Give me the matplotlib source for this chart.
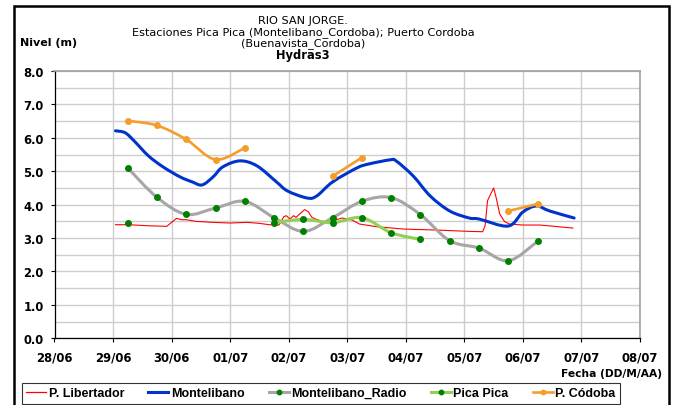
import matplotlib
matplotlib.use("Agg")
import matplotlib.pyplot as plt
import matplotlib.dates as mdates
from matplotlib.path import Path
from matplotlib.patches import PathPatch, Rectangle
from matplotlib.lines import Line2D
import numpy as np
import pandas as pd

YEAR = "2011"

# ---- data -------------------------------------------------------------
libertador_time = [
    "06-29 01:00", "06-29 06:00", "06-29 14:00", "06-29 22:00", "06-30 00:00",
    "06-30 02:00", "06-30 04:00", "06-30 06:00", "06-30 10:00", "06-30 17:00",
    "07-01 00:00", "07-01 07:00", "07-01 12:00", "07-01 16:00", "07-01 20:00",
    "07-01 22:00", "07-01 23:00", "07-02 00:30", "07-02 02:00", "07-02 03:00",
    "07-02 04:30", "07-02 06:30", "07-02 08:00", "07-02 09:30", "07-02 11:00",
    "07-02 15:00", "07-02 18:00", "07-02 22:00", "07-03 02:00", "07-03 05:00",
    "07-03 12:00", "07-03 23:00", "07-04 12:30", "07-05 02:00", "07-05 07:30",
    "07-05 08:30", "07-05 09:30", "07-05 12:00", "07-05 13:00", "07-05 14:30",
    "07-05 16:30", "07-05 18:30", "07-06 00:00", "07-06 07:00", "07-06 20:30",
]
libertador_level = [
    3.40, 3.40, 3.37, 3.35, 3.47,
    3.59, 3.55, 3.55, 3.50, 3.47,
    3.45, 3.47, 3.44, 3.40, 3.39,
    3.64, 3.67, 3.57, 3.67, 3.62,
    3.72, 3.85, 3.79, 3.62, 3.57,
    3.47, 3.52, 3.60, 3.54, 3.42,
    3.34, 3.27, 3.24, 3.20, 3.19,
    3.37, 4.12, 4.50, 4.22, 3.72,
    3.49, 3.42, 3.39, 3.39, 3.30,
]

montelibano_time = [
    "06-29 01:00", "06-29 05:00", "06-29 09:00", "06-29 14:30", "06-29 20:30",
    "06-30 03:30", "06-30 08:30", "06-30 12:30", "06-30 17:00", "06-30 21:00",
    "07-01 04:00", "07-01 11:00", "07-01 19:00", "07-01 23:30", "07-02 07:30",
    "07-02 11:30", "07-02 18:00", "07-03 04:00", "07-03 09:00", "07-03 17:30",
    "07-03 20:00", "07-04 03:00", "07-04 10:00", "07-04 18:00", "07-05 02:00",
    "07-05 06:00", "07-05 18:00", "07-06 00:00", "07-06 05:30", "07-06 11:00",
    "07-06 21:00",
]
montelibano_level = [
    6.21, 6.15, 5.88, 5.46, 5.13,
    4.83, 4.68, 4.59, 4.83, 5.13,
    5.31, 5.16, 4.68, 4.41, 4.20,
    4.26, 4.68, 5.10, 5.22, 5.34,
    5.31, 4.86, 4.26, 3.81, 3.60,
    3.57, 3.36, 3.78, 3.96, 3.81,
    3.60,
]

# twice-daily readings (06:00 and 18:00)
reading_time = [
    "06-29 06:00", "06-29 18:00", "06-30 06:00", "06-30 18:00", "07-01 06:00",
    "07-01 18:00", "07-02 06:00", "07-02 18:00", "07-03 06:00", "07-03 18:00",
    "07-04 06:00", "07-04 18:00", "07-05 06:00", "07-05 18:00", "07-06 06:00",
]
nan = np.nan
radio_level = [5.10, 4.22, 3.71, 3.90, 4.10, 3.61, 3.20, 3.61, 4.10, 4.21,
               3.70, 2.92, 2.70, 2.32, 2.90]
picapica_level = [3.45, nan, nan, nan, nan, 3.46, 3.56, 3.46, 3.61, 3.16,
                  2.96, nan, nan, nan, nan]
cordoba_level = [6.51, 6.37, 5.95, 5.35, 5.70, nan, nan, 4.85, 5.41, nan,
                 nan, nan, nan, 3.81, 4.02]

xtick_dates = ["06-28", "06-29", "06-30", "07-01", "07-02", "07-03",
               "07-04", "07-05", "07-06", "07-07", "07-08"]
xtick_labels = ["28/06", "29/06", "30/06", "01/07", "02/07", "03/07",
                "04/07", "05/07", "06/07", "07/07", "08/07"]
ytick_values = [0, 1, 2, 3, 4, 5, 6, 7, 8]

title_lines = ["RIO SAN JORGE.",
               "Estaciones Pica Pica (Montelibano_Cordoba); Puerto Cordoba",
               "(Buenavista_Cordoba)"]
subtitle = "Hydras3"

# ---- helpers ----------------------------------------------------------
def to_num(times):
    return mdates.date2num(pd.to_datetime([f"{YEAR}-{t}" for t in times]))


def smooth_segments(ax, x, y, **style):
    """Draw a smoothed (cardinal Bezier) curve through each run of valid points."""
    x = np.asarray(x, float)
    y = np.asarray(y, float)
    ok = ~np.isnan(y)
    runs, cur = [], []
    for i in range(len(y)):
        if ok[i]:
            cur.append(i)
        else:
            if cur:
                runs.append(cur)
            cur = []
    if cur:
        runs.append(cur)
    for run in runs:
        if len(run) < 2:
            continue
        p = np.column_stack([x[run], y[run]])
        n = len(p)
        verts = [tuple(p[0])]
        codes = [Path.MOVETO]
        for i in range(n - 1):
            p0 = p[i - 1] if i > 0 else p[i]
            p1, p2 = p[i], p[i + 1]
            p3 = p[i + 2] if i + 2 < n else p[i + 1]
            c1 = p1 + (p2 - p0) / 6.0
            c2 = p2 - (p3 - p1) / 6.0
            verts += [tuple(c1), tuple(c2), tuple(p2)]
            codes += [Path.CURVE4] * 3
        ax.add_patch(PathPatch(Path(verts, codes), fill=False,
                               capstyle="round", joinstyle="round", **style))


# ---- figure -----------------------------------------------------------
W, H = 676, 406
fig = plt.figure(figsize=(W / 100, H / 100), dpi=100)
fig.patch.set_facecolor("white")

x0, x1, ytop, ybot = 54.5, 640.0, 72.0, 339.3
ax = fig.add_axes([x0 / W, (H - ybot) / H, (x1 - x0) / W, (ybot - ytop) / H])

RED = "#ff0000"
BLUE = "#0033cc"
GRAY = "#a6a6a6"
LGREEN = "#92d050"
ORANGE = "#f59d2a"
DGREEN = "#008000"

lib_x = to_num(libertador_time)
mon_x = to_num(montelibano_time)
rd_x = to_num(reading_time)

ax.plot(lib_x, libertador_level, color=RED, lw=0.8, zorder=3)
smooth_segments(ax, mon_x, montelibano_level, edgecolor=BLUE, lw=2.2, zorder=4)

smooth_segments(ax, rd_x, radio_level, edgecolor=GRAY, lw=2.2, zorder=5)
ax.plot(rd_x, radio_level, ls="none", marker="o", ms=4, color=DGREEN, zorder=6)

smooth_segments(ax, rd_x, picapica_level, edgecolor=LGREEN, lw=2.2, zorder=7)
ax.plot(rd_x, picapica_level, ls="none", marker="o", ms=4, color=DGREEN, zorder=8)

smooth_segments(ax, rd_x, cordoba_level, edgecolor=ORANGE, lw=1.9, zorder=9)
ax.plot(rd_x, cordoba_level, ls="none", marker="o", ms=4, color=ORANGE, zorder=10)

# axes, ticks and grid
xt = to_num([d + " 00:00" for d in xtick_dates])
ax.set_xlim(xt[0], xt[-1])
ax.set_ylim(0, 8)
ax.set_xticks(xt)
ax.set_xticklabels(xtick_labels, fontsize=8.4, fontweight="bold")
ax.set_yticks(ytick_values)
ax.set_yticklabels([f"{v:.1f}" for v in ytick_values], fontsize=8.3, fontweight="bold")
ax.set_yticks(np.arange(0.5, 8, 1.0), minor=True)
ax.tick_params(axis="y", which="minor", length=0)
ax.tick_params(axis="both", which="major", direction="out", length=3.2,
               width=0.8, color="black")
ax.tick_params(axis="x", which="major", pad=5.5)
ax.tick_params(axis="y", which="major", pad=4.5)
ax.grid(True, which="both", color="#cdcdcd", lw=1.0, zorder=0)
ax.set_axisbelow(True)
for side in ("top", "right"):
    ax.spines[side].set_color("#a0a0a0")
    ax.spines[side].set_linewidth(1.2)
for side in ("left", "bottom"):
    ax.spines[side].set_color("black")
    ax.spines[side].set_linewidth(0.9)

# titles and axis captions
cx = 303 / W
for txt, yy in zip(title_lines, [20.7, 32.3, 43.3]):
    fig.text(cx, 1 - yy / H, txt, ha="center", va="center", fontsize=8.1)
fig.text(cx, 1 - 55.0 / H, subtitle, ha="center", va="center",
         fontsize=8.3, fontweight="bold")
fig.text(19.5 / W, 1 - 43.5 / H, "Nivel (m)", ha="left", va="center",
         fontsize=8.0, fontweight="bold")
fig.text(661.7 / W, 1 - 374 / H, "Fecha (DD/M/AA)", ha="right", va="center",
         fontsize=7.7, fontweight="bold")

# legend spread across a fixed-width box below the plot
handles = [
    Line2D([], [], color=RED, lw=0.9),
    Line2D([], [], color=BLUE, lw=2.2),
    Line2D([], [], color=GRAY, lw=2.2, marker="o", ms=3.2, mfc=DGREEN, mec=DGREEN),
    Line2D([], [], color=LGREEN, lw=2.2, marker="o", ms=3.2, mfc=DGREEN, mec=DGREEN),
    Line2D([], [], color=ORANGE, lw=1.9, marker="o", ms=3.2, mfc=ORANGE, mec=ORANGE),
]
names = ["P. Libertador", "Montelibano", "Montelibano_Radio", "Pica Pica", "P. Códoba"]
leg_left, leg_right, leg_bottom = 21.7, 620.0, 404.5
leg = fig.legend(handles, names, loc="lower left", ncol=5, mode="expand",
                 bbox_to_anchor=(leg_left / W, 1 - leg_bottom / H,
                                 (leg_right - leg_left) / W, 20 / H),
                 prop={"family": "Liberation Sans", "size": 9.0, "weight": "bold"},
                 frameon=True, fancybox=False, shadow=False, handlelength=1.6,
                 handletextpad=0.2, columnspacing=1.0, borderpad=0.35,
                 borderaxespad=0, numpoints=1)
leg.get_frame().set_edgecolor("black")
leg.get_frame().set_linewidth(0.8)

# outer chart border
fig.patches.append(Rectangle((14 / W, -0.05), (669.3 - 14) / W, 1.05 - 7 / H,
                             transform=fig.transFigure, fill=False,
                             edgecolor="black", lw=1.8))

fig.savefig("out.png", dpi=100)
